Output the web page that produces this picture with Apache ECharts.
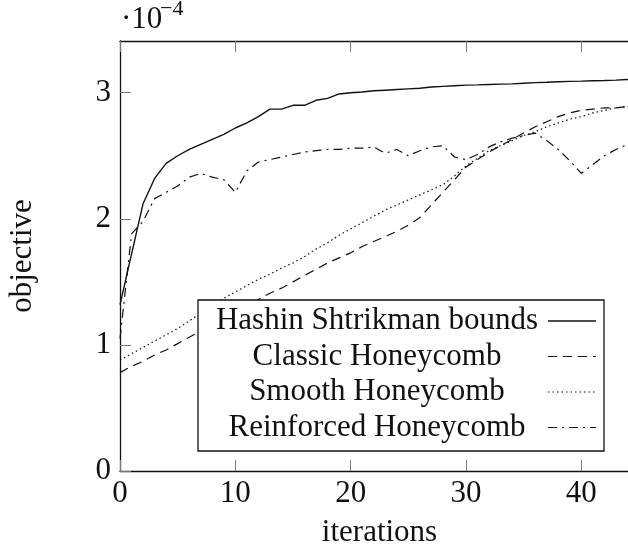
<!DOCTYPE html>
<html>
<head>
<meta charset="utf-8">
<script src="https://cdn.jsdelivr.net/npm/echarts@6/dist/echarts.min.js"></script>
<style>
  html, body { margin: 0; padding: 0; background: #fff; }
  #chart { width: 628px; height: 547px; }
</style>
</head>
<body>
<div id="chart"></div>
<script>
// Iteration index (x axis)
const iterations = [0,1,2,3,4,5,6,7,8,9,10,11,12,13,14,15,16,17,18,19,20,21,22,23,24,25,26,27,28,29,30,31,32,33,34,35,36,37,38,39,40,41,42,43,44,45];

// Objective values, in units of 1e-4
const hashinShtrikman = [1.32,1.72,2.12,2.32,2.44,2.50,2.55,2.59,2.63,2.67,2.72,2.76,2.81,2.87,2.87,2.90,2.90,2.94,2.955,2.99,3.00,3.005,3.015,3.02,3.025,3.03,3.035,3.045,3.05,3.055,3.06,3.062,3.065,3.068,3.07,3.075,3.08,3.083,3.087,3.09,3.092,3.095,3.097,3.10,3.105,3.11];
const classicHoneycomb = [0.78,0.83,0.87,0.92,0.96,1.01,1.06,1.11,1.16,1.21,1.26,1.31,1.36,1.41,1.45,1.50,1.55,1.60,1.65,1.69,1.73,1.78,1.82,1.86,1.90,1.95,2.01,2.11,2.21,2.31,2.41,2.47,2.53,2.58,2.63,2.68,2.73,2.77,2.81,2.84,2.86,2.87,2.88,2.88,2.89,2.89];
const smoothHoneycomb = [0.88,0.93,0.98,1.03,1.08,1.13,1.19,1.25,1.31,1.37,1.42,1.47,1.52,1.56,1.61,1.65,1.70,1.76,1.81,1.87,1.92,1.97,2.02,2.07,2.11,2.15,2.19,2.23,2.27,2.34,2.42,2.48,2.54,2.58,2.62,2.66,2.69,2.73,2.76,2.79,2.81,2.84,2.86,2.88,2.89,2.90];
const reinforcedHoneycomb = [1.05,1.88,1.98,2.16,2.21,2.26,2.33,2.36,2.33,2.31,2.21,2.38,2.45,2.47,2.49,2.51,2.53,2.54,2.55,2.55,2.56,2.56,2.57,2.52,2.55,2.50,2.54,2.57,2.58,2.49,2.47,2.51,2.57,2.61,2.64,2.66,2.68,2.62,2.55,2.46,2.36,2.43,2.50,2.55,2.59,2.62];

const seriesNames = ['Hashin Shtrikman bounds', 'Classic Honeycomb', 'Smooth Honeycomb', 'Reinforced Honeycomb'];
const seriesValues = [hashinShtrikman, classicHoneycomb, smoothHoneycomb, reinforcedHoneycomb];

// Tick labels
const xTickLabels = ['0', '10', '20', '30', '40'];
const yTickLabels = ['0', '1', '2', '3'];

const FONT = '"Liberation Serif", "DejaVu Serif", serif';
const FS = 31;
const INK = '#111';

// Line dash patterns: solid, dashed, dotted, dash-dotted
const dashes = [null, [9, 6], [1.5, 3], [9, 5, 2, 5]];
const widths = [1.4, 1.2, 1.2, 1.2];

const GRID = { left: 120, top: 41, width: 519, height: 430 };

const chart = echarts.init(document.getElementById('chart'), null, { renderer: 'canvas' });

const series = seriesValues.map((vals, i) => ({
  name: seriesNames[i],
  type: 'line',
  xAxisIndex: 0,
  yAxisIndex: 0,
  data: iterations.map((it, k) => [it, vals[k]]),
  showSymbol: false,
  symbol: 'none',
  smooth: false,
  animation: false,
  lineStyle: { color: INK, width: widths[i], type: dashes[i] || 'solid' },
  z: 3
}));

// Legend box drawn with graphic elements: centred text, line sample on the right
const legendBox = { x: 198, y: 300, w: 406, h: 151 };
const rowH = 35.5;
const rowStart = legendBox.y + 21;
const textCenterX = 377;
const graphics = [
  {
    type: 'rect',
    shape: { x: legendBox.x, y: legendBox.y, width: legendBox.w, height: legendBox.h },
    style: { fill: '#fff', stroke: INK, lineWidth: 1.3 },
    z: 10
  },
  // scale factor above the y axis
  {
    type: 'text',
    x: 121, y: 4,
    style: { text: '·10', font: FS + 'px ' + FONT, fill: INK, verticalAlign: 'top' },
    z: 10
  },
  {
    type: 'text',
    x: 160, y: -2,
    style: { text: '−4', font: '22px ' + FONT, fill: INK, verticalAlign: 'top' },
    z: 10
  }
];
seriesNames.forEach((name, i) => {
  const cy = rowStart + i * rowH;
  graphics.push({
    type: 'text',
    x: textCenterX, y: cy,
    style: { text: name, font: FS + 'px ' + FONT, fill: INK, align: 'center', verticalAlign: 'middle' },
    z: 11
  });
  graphics.push({
    type: 'line',
    shape: { x1: 548, y1: cy, x2: 596, y2: cy },
    style: { stroke: INK, lineWidth: widths[i], lineDash: dashes[i] || null },
    z: 11
  });
});

const tickStyle = { show: true, inside: true, length: 11, lineStyle: { color: '#777', width: 1 } };
const lineStyleAxis = { show: true, onZero: false, lineStyle: { color: INK, width: 1.3 } };

chart.setOption({
  animation: false,
  backgroundColor: '#fff',
  grid: Object.assign({ containLabel: false, outerBoundsMode: 'none' }, GRID),
  xAxis: [
    {
      type: 'value', position: 'bottom', min: 0, max: 45, interval: 10,
      axisLine: lineStyleAxis, axisTick: tickStyle, splitLine: { show: false },
      axisLabel: {
        show: true, margin: 7, showMaxLabel: false,
        fontFamily: FONT, fontSize: FS, color: INK,
        formatter: v => { const i = Math.round(v / 10); return (v % 10 === 0 && i < xTickLabels.length) ? xTickLabels[i] : ''; }
      },
      name: 'iterations', nameLocation: 'middle', nameGap: 46,
      nameTextStyle: { fontFamily: FONT, fontSize: FS, color: INK }
    },
    {
      type: 'value', position: 'top', min: 0, max: 45, interval: 10,
      axisLine: lineStyleAxis, axisTick: tickStyle, axisLabel: { show: false }, splitLine: { show: false }
    }
  ],
  yAxis: [
    {
      type: 'value', position: 'left', min: 0, max: 3.41, interval: 1,
      axisLine: lineStyleAxis, axisTick: tickStyle, splitLine: { show: false },
      axisLabel: {
        show: true, margin: 9, showMaxLabel: false,
        fontFamily: FONT, fontSize: FS, color: INK,
        formatter: v => { const i = Math.round(v); return (Math.abs(v - i) < 1e-9 && i < yTickLabels.length) ? yTickLabels[i] : ''; }
      },
      name: 'objective', nameLocation: 'middle', nameGap: 82, nameRotate: 90,
      nameTextStyle: { fontFamily: FONT, fontSize: FS, color: INK }
    },
    {
      type: 'value', position: 'right', min: 0, max: 3.41, interval: 1,
      axisLine: lineStyleAxis, axisTick: tickStyle, axisLabel: { show: false }, splitLine: { show: false }
    }
  ],
  series: series,
  graphic: graphics
});
</script>
</body>
</html>
